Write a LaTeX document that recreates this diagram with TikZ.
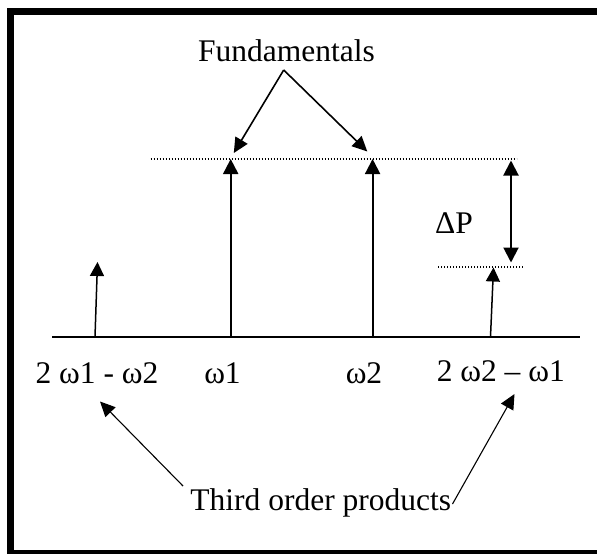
\documentclass[tikz,border=0pt]{standalone}
\usepackage{fontspec}
\setmainfont{Liberation Serif}
\usetikzlibrary{arrows.meta}
\tikzset{
  lbl/.style={inner sep=0pt, anchor=base, font=\fontsize{31.5}{36}\selectfont},
  arr/.style={line width=2pt, -{Triangle[length=15pt,width=15pt]}},
  darr/.style={line width=2pt, {Triangle[length=15pt,width=15pt]}-{Triangle[length=15pt,width=15pt]}},
  sarr/.style={line width=1.5pt, -{Triangle[length=14pt,width=14pt]}},
  parr/.style={line width=1.6pt, -{Triangle[length=15pt,width=14pt]}},
  tarr/.style={line width=1.1pt, -{Triangle[length=15pt,width=14pt]}},
  dots/.style={line width=1.3pt, dash pattern=on 1.3pt off 1.7pt},
  frame/.style={line width=7pt}
}
\begin{document}
\begin{tikzpicture}[x=1pt,y=-1pt]
\useasboundingbox (0,0) rectangle (597,554);
% frame
\draw[frame] (600,11.5) -- (10.5,11.5) -- (10.5,553.5) -- (600,553.5);
% coordinates
\coordinate (axL) at (52,336.7);
\coordinate (axR) at (580,336.7);
\coordinate (w1b) at (230.7,336.7);
\coordinate (w1t) at (230.7,159);
\coordinate (w2b) at (372.6,336.7);
\coordinate (w2t) at (372.6,159);
\coordinate (ltb) at (95,336.7);
\coordinate (ltt) at (97.5,262);
\coordinate (rtb) at (490.5,336.7);
\coordinate (rtt) at (493.5,267.5);
\coordinate (dpt) at (511,160.5);
\coordinate (dpb) at (511,262.5);
\coordinate (d1a) at (150.5,159);
\coordinate (d1b) at (516.5,159);
\coordinate (d2a) at (438,267);
\coordinate (d2b) at (524,267);
\coordinate (apex) at (283.7,70);
\coordinate (f1) at (233.8,153);
\coordinate (f2) at (367.3,151.5);
\coordinate (tl) at (183,486);
\coordinate (tr) at (452.5,504);
\coordinate (tlt) at (100,401.5);
\coordinate (trt) at (514.5,394);
% texts
\node[lbl] (fund) at (286.5,61.7) {Fundamentals};
\node[lbl] (dp) at (454,233) {ΔP};
\node[lbl] (l1) at (97,383.3) {2 ω1 - ω2};
\node[lbl] (l2) at (222.5,383.3) {ω1};
\node[lbl] (l3) at (364,383.3) {ω2};
\node[lbl] (l4) at (500.8,381.7) {2 ω2 – ω1};
\node[lbl] (third) at (320.8,510) {Third order products};
% axis
\draw[line width=2pt] (axL) -- (axR);
% dotted levels
\draw[dots] (d1a) -- (d1b);
\draw[dots] (d2a) -- (d2b);
% spectral lines
\draw[arr] (w1b) -- (w1t);
\draw[arr] (w2b) -- (w2t);
\draw[sarr] (ltb) -- (ltt);
\draw[sarr] (rtb) -- (rtt);
\draw[darr] (dpt) -- (dpb);
% annotation arrows
\draw[parr] (apex) -- (f1);
\draw[parr] (apex) -- (f2);
\draw[tarr] (tl) -- (tlt);
\draw[tarr] (tr) -- (trt);
\end{tikzpicture}
\end{document}
